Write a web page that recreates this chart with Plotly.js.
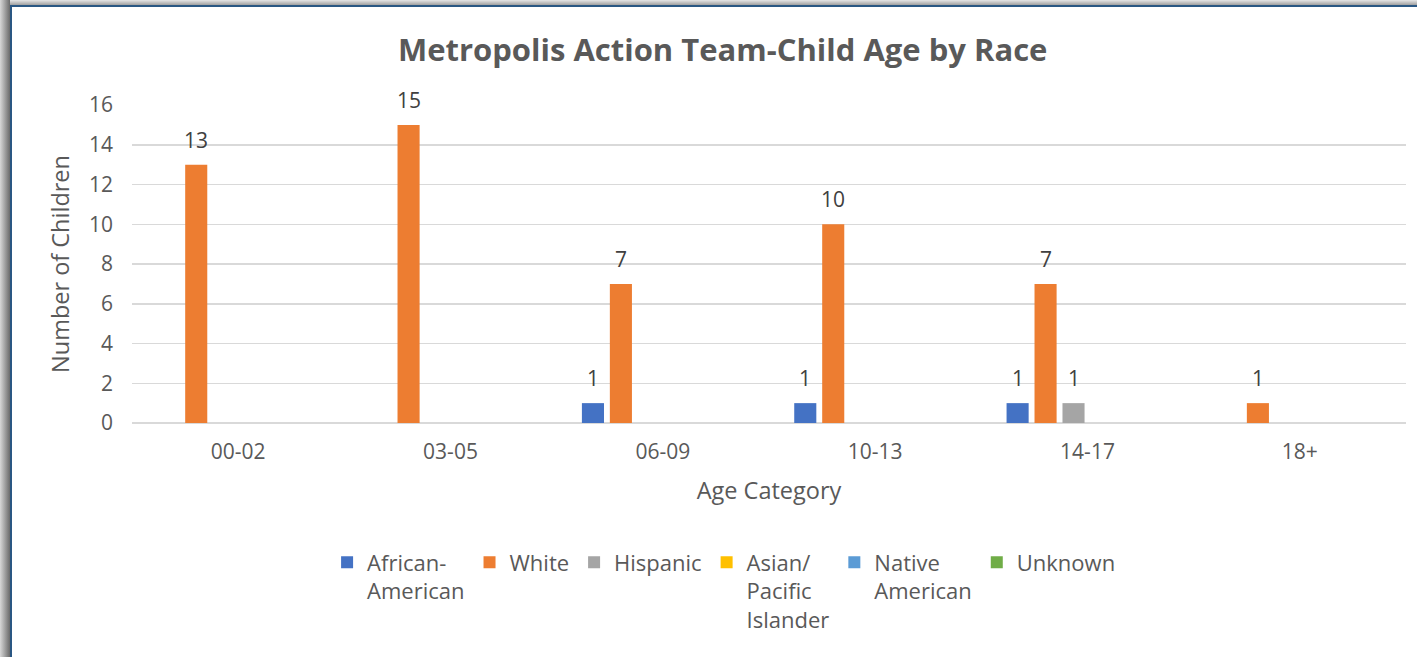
<!DOCTYPE html>
<html>
<head>
<meta charset="utf-8">
<script src="https://cdn.plot.ly/plotly-3.0.1.min.js"></script>
<style>
  html, body { margin: 0; padding: 0; background: #ffffff; overflow: hidden; }
  #wrap { position: relative; width: 1417px; height: 657px; }
  #chart { position: absolute; left: 0; top: 0; width: 1417px; height: 657px; }
  .shadowL { position: absolute; left: 0; top: 0; width: 10px; height: 657px;
    background: linear-gradient(to right, #d8d8d8, #6a6a6a); pointer-events: none; }
  .shadowT { position: absolute; left: 0; top: 0; width: 1417px; height: 5px;
    background: linear-gradient(to bottom, #e6e6e6, #a0a0a0); pointer-events: none; }
  .borderL { position: absolute; left: 10px; top: 5px; width: 2px; height: 652px; background: #2a5783; pointer-events: none; }
  .borderT { position: absolute; left: 10px; top: 5px; width: 1407px; height: 2px; background: #2a5783; pointer-events: none; }
</style>
</head>
<body>
<div id="wrap">
  <div id="chart"></div>
  <div class="shadowT"></div>
  <div class="shadowL"></div>
  <div class="borderT"></div>
  <div class="borderL"></div>
</div>
<script>
const categories = ["00-02", "03-05", "06-09", "10-13", "14-17", "18+"];
const seriesNames = ["African-<br>American", "White", "Hispanic", "Asian/<br>Pacific<br>Islander", "Native<br>American", "Unknown"];
const africanAmerican = [null, null, 1, 1, 1, null];
const white = [13, 15, 7, 10, 7, 1];
const hispanic = [null, null, null, null, 1, null];
const asianPacific = [null, null, null, null, null, null];
const nativeAmerican = [null, null, null, null, null, null];
const unknown = [null, null, null, null, null, null];
const seriesColors = ["#4472C4", "#ED7D31", "#A5A5A5", "#FFC000", "#5B9BD5", "#70AD47"];

const allSeries = [africanAmerican, white, hispanic, asianPacific, nativeAmerican, unknown];
const FONT = "Open Sans, sans-serif";
const BARGAP = 0.21;
const nSeries = allSeries.length;

const traces = allSeries.map((vals, i) => ({
  type: "bar",
  name: seriesNames[i],
  x: categories,
  y: vals.map(v => v === null ? 0 : v),
  marker: { color: seriesColors[i] },
  hoverinfo: "x+y+name"
}));

// data labels placed above each non-empty bar via the category axis
const slot = (1 - BARGAP) / nSeries;
const annotations = [];
allSeries.forEach((vals, i) => {
  vals.forEach((v, j) => {
    if (v === null) return;
    annotations.push({
      xref: "x", yref: "y",
      x: j + (i - (nSeries - 1) / 2) * slot,
      y: v,
      text: String(v),
      showarrow: false,
      xanchor: "center", yanchor: "middle",
      yshift: 25,
      font: { family: FONT, size: 21, color: "#404040" }
    });
  });
});

const layout = {
  width: 1417,
  height: 657,
  paper_bgcolor: "#ffffff",
  plot_bgcolor: "#ffffff",
  margin: { l: 132, r: 11, t: 105, b: 234 },
  barmode: "group",
  bargap: BARGAP,
  bargroupgap: 0.21,
  font: { family: FONT, color: "#595959" },
  annotations: annotations,
  title: {
    text: "<b>Metropolis Action Team-Child Age by Race</b>",
    font: { family: FONT, size: 31, color: "#595959" },
    xref: "container", x: 0.51, xanchor: "center",
    yref: "container", y: 0.924, yanchor: "middle"
  },
  xaxis: {
    type: "category",
    tickfont: { family: FONT, size: 21, color: "#595959" },
    ticks: "",
    ticklabelstandoff: 14,
    showgrid: false,
    showline: false,
    zeroline: false,
    title: { text: "Age Category", font: { family: FONT, size: 23.5, color: "#595959" }, standoff: 18 }
  },
  yaxis: {
    range: [0, 16],
    dtick: 2,
    tick0: 0,
    tickfont: { family: FONT, size: 21, color: "#595959" },
    ticks: "",
    ticklabelstandoff: 18,
    showgrid: true,
    gridcolor: "#d9d9d9",
    gridwidth: 1.5,
    zeroline: true,
    zerolinecolor: "#d9d9d9",
    zerolinewidth: 1.5,
    showline: false,
    title: { text: "Number of Children", font: { family: FONT, size: 23.5, color: "#595959" }, standoff: 12 }
  },
  legend: {
    orientation: "h",
    xref: "container", x: 0.511, xanchor: "center",
    yref: "container", y: 0.176, yanchor: "top",
    font: { family: FONT, size: 22, color: "#595959" },
    valign: "top",
    itemwidth: 30,
    traceorder: "normal"
  },
  showlegend: true
};

Plotly.newPlot("chart", traces, layout, { displayModeBar: false, staticPlot: true });
</script>
</body>
</html>
